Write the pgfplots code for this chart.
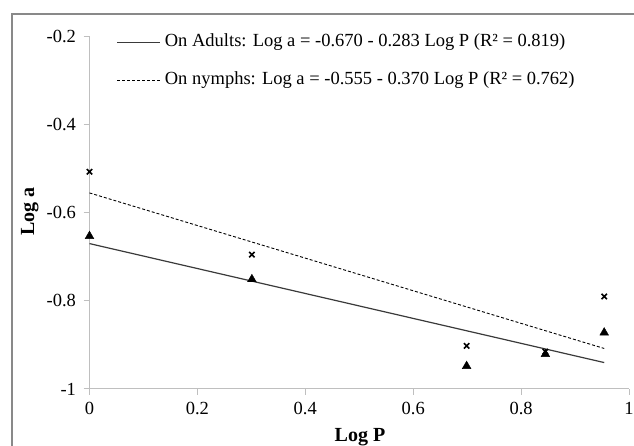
\documentclass[border=0pt]{standalone}
\usepackage{fontspec}
\setmainfont{Liberation Serif}
\usepackage{pgfplots}
\pgfplotsset{compat=1.18}

\definecolor{axisgray}{HTML}{BFBFBF}
\definecolor{framegray}{HTML}{898989}
\definecolor{fitgray}{HTML}{3A3A3A}

\pgfplotstableread{
x      y
0      -0.653
0.301  -0.751
0.699  -0.948
0.845  -0.921
0.954  -0.872
}\adults

\pgfplotstableread{
x      y
0      -0.507
0.301  -0.695
0.699  -0.902
0.845  -0.915
0.954  -0.790
}\nymphs

\begin{document}
\begin{tikzpicture}
\useasboundingbox (0pt,0pt) rectangle (634pt,446pt);
% chart frame (right and bottom edges fall outside the picture)
\draw[framegray, line width=1.5pt] (12pt,0pt) -- (12pt,432pt) -- (640pt,432pt);

\begin{axis}[
    at={(89.5pt,57pt)}, anchor=south west,
    scale only axis,
    width=539.5pt, height=352.5pt,
    xmin=0, xmax=1, ymin=-1, ymax=-0.2,
    axis x line=bottom, axis y line=left,
    axis line style={draw=axisgray, line width=1pt, -},
    xtick={0,0.2,0.4,0.6,0.8,1},
    ytick={-1,-0.8,-0.6,-0.4,-0.2},
    tick align=outside,
    major tick length=6pt,
    tick style={axisgray, line width=1pt},
    /pgf/number format/assume math mode=true,
    tick label style={font=\fontsize{18.5}{22}\selectfont},
    xticklabel style={yshift=-4pt},
    yticklabel style={xshift=-4pt},
    clip=false,
    legend style={
        draw=none, fill=none,
        at={(0.0504,1.008)}, anchor=north west,
        inner sep=0pt, outer sep=0pt,
        row sep=23.5pt, column sep=4pt,
        font=\fontsize{18.5}{22}\selectfont,
        nodes={inner sep=0pt},
    },
    legend cell align=left,
    legend image code/.code={\draw[#1] (0pt,-2pt) -- (43pt,-2pt);},
]

\addplot[fitgray, line width=1.2pt] coordinates {(0,-0.670) (0.954,-0.940)};
\addlegendentry{On Adults: Log a = -0.670 - 0.283 Log P (R² = 0.819)}

\addplot[black, line width=0.9pt, dash pattern=on 3pt off 2pt] coordinates {(0,-0.555) (0.954,-0.908)};
\addlegendentry{On nymphs: Log a = -0.555 - 0.370 Log P (R² = 0.762)}

\addplot[only marks, mark=triangle*, mark size=5pt, black, forget plot] table[x=x, y=y] {\adults};
\addplot[only marks, mark=x, mark size=3.8pt, black, line width=1.6pt, forget plot] table[x=x, y=y] {\nymphs};

\end{axis}

\node[rotate=90, anchor=base, font=\fontsize{20}{24}\selectfont\bfseries] at (34pt,234.5pt) {Log a};
\node[anchor=base, font=\fontsize{20}{24}\selectfont\bfseries] at (360pt,4pt) {Log P};
\end{tikzpicture}
\end{document}
